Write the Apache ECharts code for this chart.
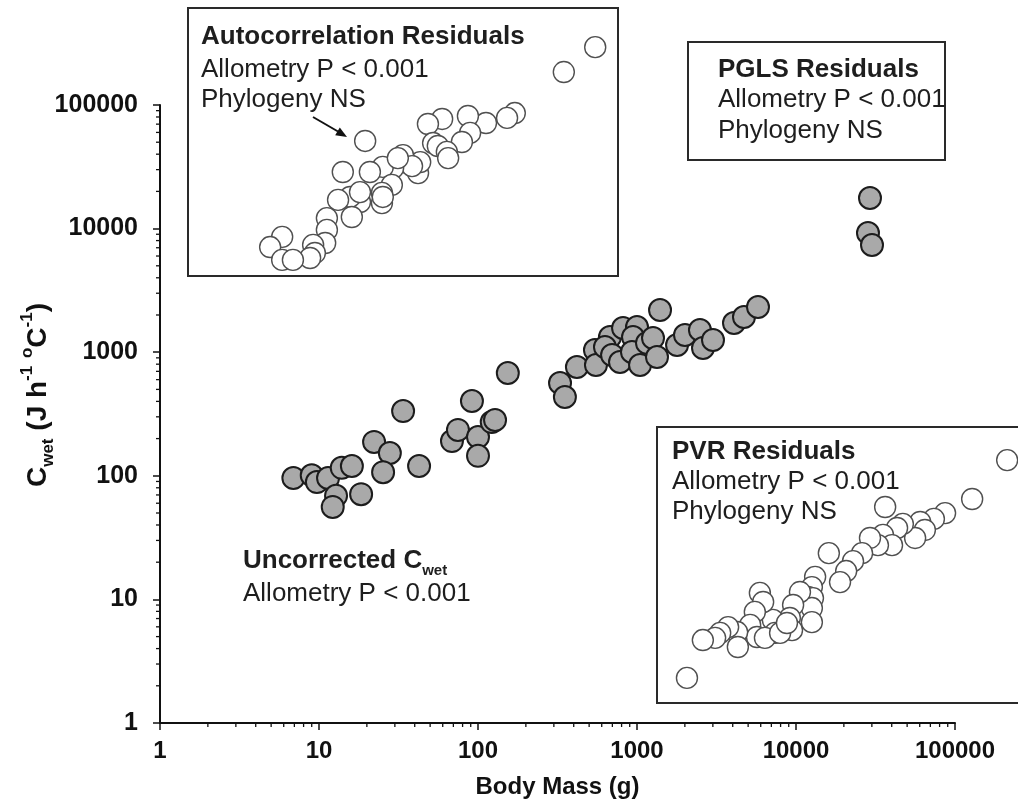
<!DOCTYPE html>
<html>
<head>
<meta charset="utf-8">
<script src="https://cdn.jsdelivr.net/npm/echarts@6/dist/echarts.min.js"></script>
<style>
  html, body { margin: 0; padding: 0; background: #fff; }
  #chart { width: 1018px; height: 807px; }
</style>
</head>
<body>
<div id="chart"></div>
<script>
// ---- Main plot: uncorrected Cwet vs body mass ----
const bodyMass = [6.9, 9.0, 9.7, 11.4, 13.9, 16.1, 12.8, 12.2, 18.4, 22.2, 27.9, 25.3, 33.8, 42.6, 68.6, 74.8, 91.6, 100, 100, 122, 128, 154, 328, 352, 419, 544, 552, 676, 629, 697, 782, 817, 1000, 944, 930, 1045, 1156, 1261, 1336, 1396, 1786, 2004, 2489, 2601, 3006, 4074, 4709, 5768, 29200, 28360, 30060];
const cwet = [96, 101, 89, 96, 116, 120, 69, 56, 71, 188, 153, 107, 334, 120, 191, 235, 403, 206, 145, 272, 283, 679, 563, 434, 759, 1042, 788, 1327, 1102, 949, 833, 1570, 1600, 1327, 1004, 788, 1187, 1303, 915, 2194, 1143, 1377, 1513, 1081, 1256, 1722, 1927, 2321, 17690, 9210, 7370];

// ---- Inset: autocorrelation residuals (relative units 0-100) ----
const autoX = [94.7, 87.4, 76.0, 74.2, 69.3, 65.1, 59.1, 55.8, 65.6, 63.7, 57.0, 58.1, 60.2, 60.5, 53.5, 54.0, 50.9, 50.0, 52.1, 47.7, 45.3, 48.8, 42.3, 36.0, 41.2, 47.4, 45.1, 45.1, 40.0, 37.7, 34.9, 38.1, 32.3, 32.3, 31.9, 29.1, 29.5, 28.4, 21.9, 19.1, 21.9, 24.4, 40.0, 45.3];
const autoY = [85.4, 76.1, 60.8, 59.0, 57.1, 59.7, 58.6, 56.7, 53.4, 50.0, 49.6, 48.5, 46.3, 44.0, 38.4, 42.5, 42.2, 45.1, 41.0, 40.3, 40.7, 44.0, 38.8, 38.8, 50.4, 34.0, 31.0, 27.2, 27.6, 29.5, 28.4, 22.0, 21.6, 17.2, 12.3, 11.6, 8.6, 6.7, 14.6, 10.8, 6.0, 6.0, 31.3, 29.5];

// ---- Inset: PVR residuals (relative units 0-100) ----
const pvrX = [97.0, 87.3, 63.2, 79.8, 76.7, 72.9, 74.2, 71.5, 68.1, 66.5, 62.6, 65.1, 61.2, 59.0, 56.8, 54.3, 52.4, 50.7, 47.6, 43.8, 42.9, 41.8, 43.2, 42.9, 42.9, 39.6, 37.7, 36.8, 37.4, 32.1, 32.7, 28.5, 29.4, 27.1, 25.8, 27.7, 29.9, 22.2, 22.4, 19.7, 17.5, 16.1, 12.7, 8.3, 34.1, 36.0];
const pvrY = [88.0, 73.9, 71.0, 68.8, 66.7, 65.6, 62.7, 59.8, 64.9, 63.4, 60.9, 57.2, 57.2, 59.8, 54.3, 51.4, 47.8, 43.8, 54.3, 45.7, 42.0, 38.4, 38.0, 34.4, 29.3, 40.2, 35.5, 30.8, 26.4, 30.1, 25.4, 39.9, 36.6, 33.0, 28.3, 23.9, 23.6, 25.7, 20.3, 27.5, 25.4, 23.6, 22.8, 9.1, 25.4, 29.0];

// ---- Axis ticks ----
const tickLabels = ['1', '10', '100', '1000', '10000', '100000'];
const minorTicks = [2, 3, 4, 5, 6, 7, 8, 9, 20, 30, 40, 50, 60, 70, 80, 90, 200, 300, 400, 500, 600, 700, 800, 900, 2000, 3000, 4000, 5000, 6000, 7000, 8000, 9000, 20000, 30000, 40000, 50000, 60000, 70000, 80000, 90000];

const zip = (a, b) => a.map((v, i) => [v, b[i]]);

const FONT = '"Liberation Sans", Arial, sans-serif';
const NARROW = '"Liberation Sans Narrow", "Liberation Sans", Arial, sans-serif';
const TXT = '#1e1e1e';

const chart = echarts.init(document.getElementById('chart'), null, { renderer: 'canvas' });

function textEl(x, y, str, bold, size) {
  return {
    type: 'text', x: x, y: y, z: 10,
    style: {
      text: str, fill: TXT,
      font: (bold ? 'bold ' : '') + (size || 26) + 'px ' + FONT,
      align: 'left', verticalAlign: 'middle',
      textAlign: 'left', textVerticalAlign: 'middle'
    }
  };
}

const option = {
  backgroundColor: '#fff',
  animation: false,
  grid: [
    { left: 160, top: 105, width: 795, height: 618 },
    { left: 188, top: 8, width: 430, height: 268 },
    { left: 657, top: 427, width: 361, height: 276 }
  ],
  xAxis: [
    {
      type: 'log', logBase: 10, min: 1, max: 100000, gridIndex: 0,
      axisLine: { show: true, onZero: false, lineStyle: { color: '#111', width: 2 } },
      axisTick: { show: true, inside: false, length: 7, lineStyle: { color: '#111', width: 1.5 } },
      splitLine: { show: false },
      axisLabel: {
        color: '#111', fontWeight: 'bold', fontSize: 24, margin: 16, fontFamily: NARROW,
        formatter: (v) => tickLabels[Math.round(Math.log10(v))]
      },
      name: 'Body Mass (g)', nameLocation: 'middle', nameGap: 52,
      nameTextStyle: { color: '#111', fontWeight: 'bold', fontSize: 24, fontFamily: NARROW }
    },
    { type: 'value', min: 0, max: 100, gridIndex: 1, show: false },
    { type: 'value', min: 0, max: 100, gridIndex: 2, show: false }
  ],
  yAxis: [
    {
      type: 'log', logBase: 10, min: 1, max: 100000, gridIndex: 0,
      axisLine: { show: true, onZero: false, lineStyle: { color: '#111', width: 2 } },
      axisTick: { show: true, inside: false, length: 7, lineStyle: { color: '#111', width: 1.5 } },
      splitLine: { show: false },
      axisLabel: {
        color: '#111', fontWeight: 'bold', fontSize: 25, margin: 22, fontFamily: FONT,
        formatter: (v) => tickLabels[Math.round(Math.log10(v))]
      }
    },
    { type: 'value', min: 0, max: 100, gridIndex: 1, show: false },
    { type: 'value', min: 0, max: 100, gridIndex: 2, show: false }
  ],
  series: [
    {
      type: 'custom', xAxisIndex: 0, yAxisIndex: 0, clip: false, silent: true,
      data: minorTicks.map(v => [v, 1]),
      renderItem: function (params, api) {
        const p = api.coord([api.value(0), 1]);
        return { type: 'line', shape: { x1: p[0], y1: p[1], x2: p[0], y2: p[1] + 4 }, style: { stroke: '#111', lineWidth: 1.3 } };
      }
    },
    {
      type: 'custom', xAxisIndex: 0, yAxisIndex: 0, clip: false, silent: true,
      data: minorTicks.map(v => [1, v]),
      renderItem: function (params, api) {
        const p = api.coord([1, api.value(1)]);
        return { type: 'line', shape: { x1: p[0], y1: p[1], x2: p[0] - 4, y2: p[1] }, style: { stroke: '#111', lineWidth: 1.3 } };
      }
    },
    {
      type: 'scatter', xAxisIndex: 0, yAxisIndex: 0, clip: false,
      symbol: 'circle', symbolSize: 22,
      itemStyle: { color: '#a9a9a9', borderColor: '#1c1c1c', borderWidth: 2, opacity: 1 },
      data: zip(bodyMass, cwet)
    },
    {
      type: 'scatter', xAxisIndex: 1, yAxisIndex: 1, clip: false,
      symbol: 'circle', symbolSize: 21,
      itemStyle: { color: '#ffffff', borderColor: '#505050', borderWidth: 1.4, opacity: 1 },
      data: zip(autoX, autoY)
    },
    {
      type: 'scatter', xAxisIndex: 2, yAxisIndex: 2, clip: false,
      symbol: 'circle', symbolSize: 21,
      itemStyle: { color: '#ffffff', borderColor: '#505050', borderWidth: 1.4, opacity: 1 },
      data: zip(pvrX, pvrY)
    }
  ],
  graphic: [
    // inset boxes
    { type: 'rect', shape: { x: 188, y: 8, width: 430, height: 268 }, style: { fill: 'none', stroke: '#2a2a2a', lineWidth: 2 }, z: 1 },
    { type: 'rect', shape: { x: 688, y: 42, width: 257, height: 118 }, style: { fill: 'none', stroke: '#2a2a2a', lineWidth: 2 }, z: 1 },
    { type: 'rect', shape: { x: 657, y: 427, width: 400, height: 276 }, style: { fill: 'none', stroke: '#2a2a2a', lineWidth: 2 }, z: 1 },
    // autocorrelation text
    textEl(201, 37, 'Autocorrelation Residuals', true),
    textEl(201, 70, 'Allometry P < 0.001', false),
    textEl(201, 100, 'Phylogeny NS', false),
    // arrow
    { type: 'line', shape: { x1: 313, y1: 117, x2: 338, y2: 131.5 }, style: { stroke: '#111', lineWidth: 2 }, z: 10 },
    { type: 'polygon', shape: { points: [[347, 137], [335.2, 135.3], [339.8, 127.5]] }, style: { fill: '#111' }, z: 10 },
    // PGLS
    textEl(718, 70, 'PGLS Residuals', true),
    textEl(718, 100, 'Allometry P < 0.001', false),
    textEl(718, 131, 'Phylogeny NS', false),
    // PVR
    textEl(672, 452, 'PVR Residuals', true),
    textEl(672, 482, 'Allometry P < 0.001', false),
    textEl(672, 512, 'Phylogeny NS', false),
    // uncorrected
    {
      type: 'text', x: 243, y: 561, z: 10,
      style: {
        text: '{b|Uncorrected C}{s|wet}', align: 'left', verticalAlign: 'middle', textAlign: 'left', textVerticalAlign: 'middle',
        rich: {
          b: { fill: TXT, color: TXT, fontWeight: 'bold', fontSize: 26, fontFamily: FONT, lineHeight: 34 },
          s: { fill: TXT, color: TXT, fontWeight: 'bold', fontSize: 15, fontFamily: FONT, lineHeight: 15, verticalAlign: 'bottom' }
        }
      }
    },
    textEl(243, 594, 'Allometry P < 0.001', false),
    // y axis title
    {
      type: 'text', x: 38, y: 395, rotation: Math.PI / 2, z: 10,
      style: {
        text: '{m|C}{s|wet}{m| (J h}{p|-1}{m| }{p|o}{m|C}{p|-1}{m|)}',
        align: 'center', verticalAlign: 'middle', textAlign: 'center', textVerticalAlign: 'middle',
        rich: {
          m: { fill: '#111', color: '#111', fontWeight: 'bold', fontSize: 28, fontFamily: FONT, lineHeight: 38 },
          s: { fill: '#111', color: '#111', fontWeight: 'bold', fontSize: 17, fontFamily: FONT, lineHeight: 17, verticalAlign: 'bottom' },
          p: { fill: '#111', color: '#111', fontWeight: 'bold', fontSize: 17, fontFamily: FONT, lineHeight: 17, verticalAlign: 'top' }
        }
      }
    }
  ]
};

chart.setOption(option);
</script>
</body>
</html>
